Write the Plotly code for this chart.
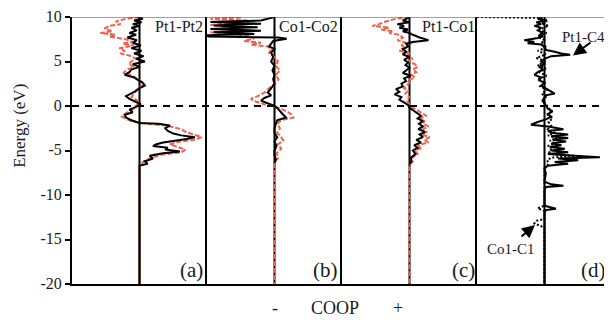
import plotly.graph_objects as go
from plotly.subplots import make_subplots

# ---------------- data ----------------
energy_ticks = [10, 5, 0, -5, -10, -15, -20]
energy_tick_labels = ["10", "5", "0", "-5", "-10", "-15", "-20"]
pair_labels = ["Pt1-Pt2", "Co1-Co2", "Pt1-Co1"]
panel_letters = ["(a)", "(b)", "(c)", "(d)"]

# panel (a) Pt1-Pt2
a_black_E = [10.0, 9.8, 9.6, 9.4, 9.2, 9.0, 8.8, 8.5, 8.2, 8.0, 7.7, 7.4, 7.1, 6.8, 6.5, 6.2, 5.9, 5.6, 5.3, 5.0,
             4.7, 4.4, 4.1, 3.8, 3.5, 3.2, 2.9, 2.6, 2.3, 2.0, 1.7, 1.4, 1.1, 0.8, 0.5, 0.2, -0.1, -0.4, -0.7, -1.0,
             -1.3, -1.6, -1.9, -2.0, -2.2, -2.5, -2.8, -3.1, -3.3, -3.5, -3.7, -3.9, -4.1, -4.3, -4.5, -4.7, -4.9,
             -5.1, -5.3, -5.6, -5.9, -6.2, -6.5, -6.7, -20.0]
a_black_v = [-0.03, 0.05, -0.08, 0.03, -0.1, 0.0, -0.12, -0.04, -0.15, -0.05, -0.18, -0.04, -0.1, 0.02, -0.12, 0.03,
             -0.08, 0.06, -0.05, 0.08, -0.1, 0.0, -0.12, -0.15, -0.22, -0.08, -0.02, 0.05, 0.08, 0.0, -0.05, -0.12,
             -0.2, -0.15, -0.05, 0.02, -0.05, -0.15, -0.1, -0.22, -0.2, -0.12, 0.0, 0.28, 0.45, 0.38, 0.42, 0.5,
             0.62, 0.82, 0.7, 0.5, 0.35, 0.25, 0.2, 0.42, 0.38, 0.6, 0.35, 0.15, 0.2, 0.08, 0.12, 0.0, 0.0]
a_red_E = [10.0, 9.8, 9.5, 9.2, 9.0, 8.7, 8.4, 8.2, 8.0, 7.8, 7.5, 7.2, 7.0, 6.8, 6.5, 6.2, 5.9, 5.6, 5.3, 5.0, 4.7,
           4.4, 4.1, 3.7, 3.4, 3.1, 2.8, 2.5, 2.2, 1.8, 1.4, 1.0, 0.6, 0.3, 0.0, -0.4, -0.8, -1.2, -1.6, -1.9, -2.2,
           -2.6, -2.9, -3.2, -3.5, -3.8, -4.0, -4.3, -4.6, -4.9, -5.2, -5.5, -5.9, -6.3, -6.7, -20.0]
a_red_v = [0.0, -0.2, -0.35, -0.28, -0.45, -0.52, -0.4, -0.58, -0.35, -0.45, -0.2, -0.1, -0.25, -0.08, -0.3, -0.22,
           -0.28, -0.12, -0.05, -0.12, -0.16, -0.08, -0.18, -0.24, -0.1, -0.05, 0.02, 0.06, 0.03, -0.05, -0.08,
           -0.12, -0.03, 0.0, -0.06, -0.1, -0.2, -0.26, -0.15, 0.0, 0.4, 0.62, 0.68, 0.8, 0.92, 0.82, 0.6, 0.45,
           0.55, 0.68, 0.62, 0.3, 0.15, 0.05, 0.0, 0.0]

# panel (b) Co1-Co2
b_black_E = [10.0, 9.8, 9.6, 9.45, 9.25, 9.05, 8.85, 8.65, 8.45, 8.3, 8.1, 7.95, 7.8, 7.7, 7.55, 7.3, 7.0, 6.7, 6.4,
             6.0, 5.5, 5.0, 4.5, 4.0, 3.5, 3.0, 2.5, 2.0, 1.5, 1.2, 0.9, 0.6, 0.3, 0.0, -0.3, -0.6, -0.9, -1.3, -1.6,
             -2.0, -2.5, -3.0, -3.5, -4.0, -4.5, -5.0, -5.5, -6.0, -6.4]
b_black_v = [0.0, -0.1, -0.2, -0.95, -0.2, -0.9, -0.25, -0.95, -0.2, -0.9, -0.3, -1.0, -0.98, 0.05, 0.18, -0.02,
             -0.05, -0.08, 0.0, -0.05, -0.02, -0.05, 0.0, -0.03, 0.0, -0.02, 0.0, -0.05, -0.1, -0.05, -0.15, -0.2,
             -0.1, 0.0, 0.05, 0.08, 0.12, 0.17, 0.04, 0.02, 0.0, 0.0, 0.04, 0.0, 0.03, 0.0, 0.0, 0.02, 0.0]
b_red_E = [9.95, 9.8, 9.6, 9.45, 9.25, 9.1, 8.9, 8.7, 8.5, 8.3, 8.1, 7.9, 7.6, 7.3, 7.1, 6.9, 6.7, 6.3, 6.0, 5.5, 5.0,
           4.5, 4.0, 3.5, 3.0, 2.5, 2.0, 1.5, 1.1, 0.8, 0.5, 0.2, 0.0, -0.3, -0.7, -1.0, -1.3, -1.6, -2.0, -2.5,
           -3.0, -3.5, -3.9, -4.3, -4.8, -5.3, -5.8, -6.3, -20.0]
b_red_v = [-0.5, -0.95, -0.4, -0.9, -0.5, -0.95, -0.45, -0.8, -0.5, -0.95, -0.6, -0.4, -0.3, -0.45, -0.2, -0.35,
           -0.1, -0.05, -0.08, 0.0, 0.05, 0.02, 0.08, 0.02, 0.06, 0.0, -0.08, -0.15, -0.25, -0.35, -0.28, -0.15,
           -0.02, 0.1, 0.2, 0.26, 0.28, 0.1, 0.04, 0.08, 0.04, 0.1, 0.13, 0.05, 0.1, 0.03, 0.06, 0.0, 0.0]

# panel (c) Pt1-Co1
c_black_E = [10.0, 9.8, 9.6, 9.4, 9.2, 9.0, 8.8, 8.6, 8.4, 8.2, 8.0, 7.7, 7.4, 7.2, 7.0, 6.7, 6.4, 6.1, 5.8, 5.5,
             5.2, 4.9, 4.6, 4.3, 4.0, 3.7, 3.4, 3.1, 2.8, 2.5, 2.2, 1.9, 1.6, 1.3, 1.0, 0.7, 0.4, 0.1, -0.2, -0.5,
             -0.8, -1.1, -1.4, -1.7, -2.0, -2.3, -2.6, -2.9, -3.2, -3.5, -3.8, -4.1, -4.4, -4.7, -5.0, -5.4, -5.8,
             -6.2, -6.5]
c_black_v = [0.0, -0.05, -0.1, 0.0, -0.18, -0.08, -0.15, -0.02, -0.1, 0.0, 0.05, 0.15, 0.28, 0.05, -0.05, -0.02,
             -0.1, -0.05, -0.1, 0.0, -0.08, -0.02, -0.06, 0.0, -0.05, -0.1, 0.02, -0.08, -0.05, -0.12, -0.1, -0.2,
             -0.15, -0.22, -0.12, -0.15, -0.08, -0.02, 0.0, 0.06, 0.1, 0.17, 0.12, 0.2, 0.14, 0.2, 0.13, 0.23, 0.15,
             0.2, 0.1, 0.17, 0.07, 0.12, 0.05, 0.09, 0.02, 0.03, 0.0]
c_red_E = [10.0, 9.8, 9.5, 9.2, 9.0, 8.8, 8.6, 8.4, 8.2, 8.0, 7.7, 7.4, 7.1, 6.8, 6.5, 6.2, 5.9, 5.6, 5.3, 5.0, 4.7,
           4.4, 4.1, 3.8, 3.5, 3.2, 2.9, 2.6, 2.3, 2.0, 1.7, 1.4, 1.0, 0.6, 0.2, -0.2, -0.5, -0.8, -1.1, -1.4, -1.7,
           -2.0, -2.3, -2.6, -2.9, -3.2, -3.5, -3.8, -4.1, -4.4, -4.7, -5.0, -5.4, -5.8, -6.2, -6.6, -20.0]
c_red_v = [0.0, -0.2, -0.35, -0.45, -0.55, -0.3, -0.42, -0.25, -0.3, -0.15, -0.1, -0.18, -0.05, -0.12, -0.05, -0.15,
           0.02, -0.05, 0.05, -0.02, 0.08, 0.12, 0.05, 0.1, 0.03, 0.08, -0.02, 0.0, -0.05, -0.08, -0.02, -0.06, 0.0,
           -0.04, 0.0, 0.05, 0.12, 0.18, 0.25, 0.15, 0.22, 0.2, 0.28, 0.2, 0.25, 0.18, 0.3, 0.22, 0.28, 0.12, 0.18,
           0.08, 0.12, 0.04, 0.05, 0.0, 0.0]

# panel (d) Pt1-C4 (solid) and Co1-C1 (dotted)
d_pt_E = [10.0, 9.8, 9.6, 9.4, 9.2, 9.0, 8.8, 8.5, 8.2, 8.0, 7.8, 7.6, 7.4, 7.2, 7.05, 6.9, 6.6, 6.3, 6.1, 5.9, 5.75,
          5.6, 5.3, 5.0, 4.7, 4.4, 4.1, 3.8, 3.5, 3.2, 2.9, 2.6, 2.3, 2.0, 1.7, 1.4, 1.2, 0.9, 0.6, 0.3, 0.0, -0.3,
          -0.6, -0.9, -1.2, -1.5, -1.8, -2.1, -2.3, -2.6, -2.8, -3.0, -3.2, -3.4, -3.6, -3.8, -4.0, -4.2, -4.4,
          -4.6, -4.8, -5.0, -5.2, -5.4, -5.6, -5.75, -5.9, -6.1, -6.3, -6.5, -6.7, -7.0, -7.6, -8.5, -8.8, -8.95,
          -9.1, -9.5, -11.2, -11.4, -11.55, -11.7, -12.0, -20.0]
d_pt_v = [-0.05, -0.1, 0.02, -0.12, -0.05, -0.15, -0.05, -0.1, -0.02, -0.08, -0.02, -0.12, -0.3, -0.15, -0.25,
          -0.05, 0.0, 0.02, 0.15, 0.25, 0.38, 0.1, 0.0, -0.05, 0.0, -0.08, -0.02, -0.1, -0.15, -0.05, -0.08, 0.0,
          -0.05, 0.02, 0.08, 0.15, 0.02, 0.0, -0.03, 0.0, 0.02, 0.05, 0.12, 0.05, 0.1, 0.02, -0.1, -0.2, 0.05,
          0.28, 0.05, 0.1, 0.35, 0.1, 0.35, 0.12, 0.32, 0.1, 0.25, 0.08, 0.3, 0.1, 0.35, 0.05, 0.45, 0.82, 0.2,
          0.5, 0.15, 0.35, 0.05, 0.0, 0.02, 0.0, 0.1, 0.28, 0.02, 0.0, 0.0, 0.08, 0.17, 0.02, 0.0, 0.0]
d_co_E = [10.0, 9.9, 9.6, 9.3, 9.0, 8.6, 8.2, 7.8, 7.4, 7.0, 6.6, 6.2, 5.8, 5.4, 5.0, 4.6, 4.2, 3.8, 3.4, 3.0, 2.6,
          2.2, 1.8, 1.4, 1.0, 0.6, 0.2, -0.2, -0.6, -1.0, -1.4, -1.8, -2.2, -2.6, -3.0, -3.3, -3.6, -3.9, -4.2,
          -4.5, -4.8, -5.1, -5.4, -5.6, -5.8, -6.1, -6.5, -7.0, -11.2, -11.5, -11.8, -12.7, -12.9, -13.2, -13.5,
          -13.8, -20.0]
d_co_v = [-1.0, -0.05, 0.05, -0.05, 0.06, -0.08, 0.03, -0.1, 0.0, -0.06, 0.04, -0.1, 0.02, -0.12, 0.03, -0.1, 0.02,
          -0.08, 0.03, -0.1, 0.02, -0.06, 0.04, -0.04, 0.02, -0.03, 0.02, 0.06, 0.1, 0.05, 0.12, 0.06, 0.1, 0.05,
          0.15, 0.05, 0.18, 0.08, 0.15, 0.05, 0.12, 0.06, 0.1, 0.45, 0.1, 0.04, 0.06, 0.0, 0.0, -0.1, 0.0, 0.0,
          -0.12, -0.15, -0.05, 0.0, 0.0]

# ---------------- figure ----------------
FONT = "Liberation Serif, Times New Roman, serif"
RED = "#F0604A"
INK = "#1a1a1a"

fig = make_subplots(rows=1, cols=4, shared_yaxes=True, horizontal_spacing=0)

panels = [
    [(a_red_E, a_red_v, "red"), (a_black_E, a_black_v, "black")],
    [(b_red_E, b_red_v, "red"), (b_black_E, b_black_v, "black")],
    [(c_red_E, c_red_v, "red"), (c_black_E, c_black_v, "black")],
    [(d_co_E, d_co_v, "dot"), (d_pt_E, d_pt_v, "black")],
]
for i, series in enumerate(panels):
    for E, v, style in series:
        if style == "red":
            line = dict(color=RED, width=2, dash="5px,2px")
        elif style == "dot":
            line = dict(color="black", width=2, dash="2px,2px")
        else:
            line = dict(color="black", width=2)
        fig.add_trace(go.Scatter(x=v, y=E, mode="lines", line=line, showlegend=False,
                                 hoverinfo="skip"), row=1, col=i + 1)

for i in range(4):
    fig.update_xaxes(range=[-1, 1], showticklabels=False, ticks="", showgrid=False, zeroline=False,
                     showline=True, linewidth=2, linecolor="black", row=1, col=i + 1)
    fig.update_yaxes(range=[-20, 10], showgrid=False, zeroline=False, showline=True, linewidth=2,
                     linecolor="black", row=1, col=i + 1)
    xr = "x" if i == 0 else f"x{i + 1}"
    fig.add_shape(type="line", xref=xr, yref="y", x0=0, x1=0, y0=-20, y1=10,
                  line=dict(color="black", width=2), layer="below")

fig.update_yaxes(tickvals=energy_ticks, ticktext=energy_tick_labels, ticks="outside", ticklen=5,
                 tickwidth=1.5, tickcolor="black", tickfont=dict(family=FONT, size=16, color=INK),
                 ticklabeloverflow="allow", ticklabelshift=-1, row=1, col=1)
for c in (2, 3, 4):
    fig.update_yaxes(showticklabels=False, ticks="", row=1, col=c)

fig.add_shape(type="line", xref="paper", yref="y", x0=0, x1=1, y0=10, y1=10,
              line=dict(color="#444", width=1.2))
fig.add_shape(type="line", xref="paper", yref="y", x0=0, x1=1, y0=0, y1=0,
              line=dict(color="black", width=2, dash="7px,6px"))

# page pixel -> paper coordinates (plot area spans page x 72..612, y 13..284)
def px(x):
    return (x - 72) / 540.0

def py(y):
    return (284 - y) / 271.0

ann = []
label_right = [205, 340, 477]
for lab, xr in zip(pair_labels, label_right):
    ann.append(dict(text=lab, x=px(xr), y=py(23), xanchor="right", yanchor="middle",
                    font=dict(family=FONT, size=16, color=INK)))
for lab, xr in zip(panel_letters, [205, 340, 477, 608]):
    ann.append(dict(text=lab, x=px(xr), y=py(270), xanchor="right", yanchor="middle",
                    font=dict(family=FONT, size=21, color=INK)))
ann.append(dict(text="Pt1-C4", x=px(607), y=py(33), xanchor="right", yanchor="middle",
                font=dict(family=FONT, size=15, color=INK)))
ann.append(dict(text="Co1-C1", x=px(511), y=py(248), xanchor="center", yanchor="middle",
                font=dict(family=FONT, size=15, color=INK)))
ann.append(dict(text="", x=px(573), y=py(52), showarrow=True, ax=19, ay=-14, arrowhead=2,
                arrowsize=1.3, arrowwidth=2, arrowcolor="black"))
ann.append(dict(text="", x=px(535), y=py(224), showarrow=True, ax=-15, ay=13, arrowhead=2,
                arrowsize=1.3, arrowwidth=2, arrowcolor="black"))
for txt, xc in [("-", 275), ("COOP", 335), ("+", 398)]:
    ann.append(dict(text=txt, x=px(xc), y=py(308), xanchor="center", yanchor="middle",
                    font=dict(family=FONT, size=18, color=INK)))
ann.append(dict(text="Energy (eV)", x=px(20), y=py(123.5), xanchor="center", yanchor="middle",
                textangle=-90, font=dict(family=FONT, size=17, color=INK)))
for a in ann:
    a.setdefault("xref", "paper")
    a.setdefault("yref", "paper")
    a.setdefault("showarrow", False)

# the page body adds an 8px offset, so the figure is 8px smaller and margins are shifted
fig.update_layout(width=604, height=312, margin=dict(l=64, r=0, t=5, b=36),
                  plot_bgcolor="white", paper_bgcolor="white", annotations=ann,
                  font=dict(family=FONT, color=INK))

fig.write_html("out.html")
